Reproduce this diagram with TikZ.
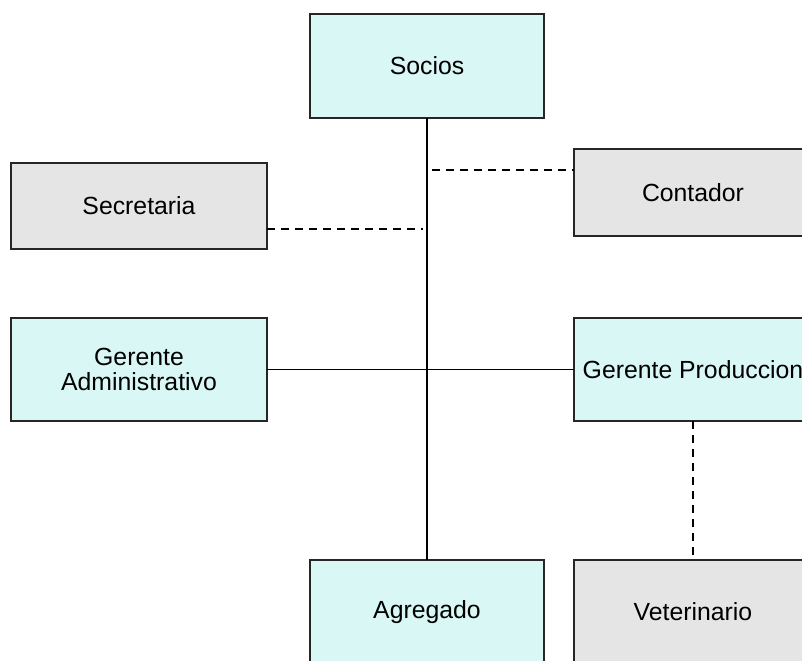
\documentclass[tikz,border=0pt]{standalone}
\usepackage{fontspec}
\setmainfont{Liberation Sans}
\usetikzlibrary{positioning}
\definecolor{cyanfill}{RGB}{217,247,245}
\definecolor{greyfill}{RGB}{229,229,229}
\tikzset{
  box/.style={draw=black!85, line width=1pt, inner sep=2pt, outer sep=0pt, align=center,
    font=\fontsize{12.4}{12.5}\selectfont},
  cyanbox/.style={box, fill=cyanfill},
  greybox/.style={box, fill=greyfill},
  link/.style={line width=0.9pt},
  dlink/.style={line width=0.8pt, dash pattern=on 4pt off 3pt}
}
\begin{document}
\begin{tikzpicture}
            \useasboundingbox (0,0) rectangle (401pt,-330pt);
            \node[cyanbox, minimum width=117pt, minimum height=52pt] (soc) at (213.5pt,-33pt) {Socios};
            \node[cyanbox, minimum width=117pt, minimum height=52pt, below=221pt of soc] (agr) {Agregado};
            \node[greybox, minimum width=119pt, minimum height=52pt, right=15pt of agr] (vet) {Veterinario};
            \node[cyanbox, minimum width=119pt, minimum height=51.5pt, above=69.5pt of vet] (gprod) {Gerente Produccion};
            \node[greybox, minimum width=119pt, minimum height=43.5pt, above=41pt of gprod] (cont) {Contador};
            \node[cyanbox, minimum width=128pt, minimum height=51.5pt, left=153.5pt of gprod] (gadm) {Gerente\\Administrativo};
            \node[greybox, minimum width=128pt, minimum height=43pt, above=34.5pt of gadm] (sec) {Secretaria};
            \coordinate (secto) at ([yshift=-11.5pt]sec.east -| 211.5pt,0);
            \coordinate (contfrom) at ([yshift=11.25pt]cont.west -| 216pt,0);
            \draw[link] (soc) -- (agr);
            \draw[link] (gadm) -- (gprod);
            \draw[dlink] ([yshift=-11.5pt]sec.east) -- (secto);
            \draw[dlink] (contfrom) -- ([yshift=11.25pt]cont.west);
            \draw[dlink] (gprod) -- (vet);
\end{tikzpicture}
\end{document}
